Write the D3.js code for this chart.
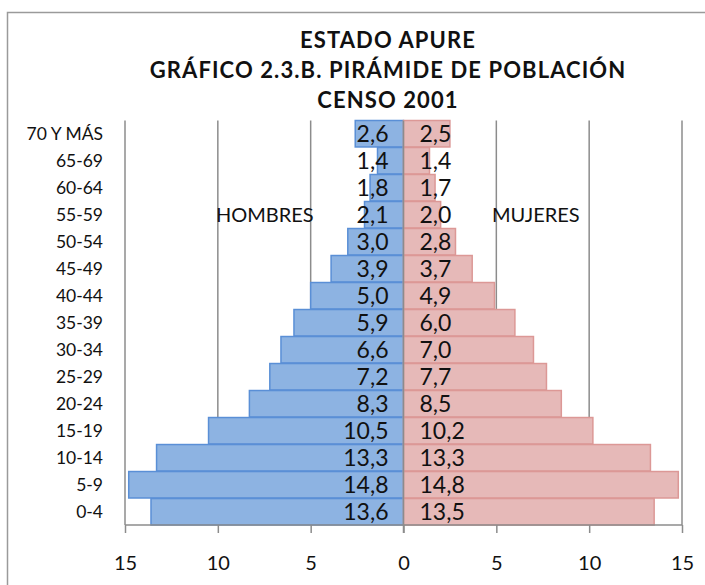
<!DOCTYPE html>
<html>
<head>
<meta charset="utf-8">
<script src="https://cdn.jsdelivr.net/npm/d3@7"></script>
<style>
  html, body { margin: 0; padding: 0; background: #fff; }
  svg { display: block; font-family: Lato, "Open Sans", sans-serif; }
</style>
</head>
<body>
<svg id="chart" width="705" height="585"></svg>
<script>
const titleLines = ["ESTADO APURE", "GRÁFICO 2.3.B. PIRÁMIDE  DE POBLACIÓN", "CENSO 2001"];
const categories = ["70 Y MÁS","65-69","60-64","55-59","50-54","45-49","40-44","35-39","30-34","25-29","20-24","15-19","10-14","5-9","0-4"];
const hombres = [2.6,1.4,1.8,2.1,3.0,3.9,5.0,5.9,6.6,7.2,8.3,10.5,13.3,14.8,13.6];
const mujeres = [2.5,1.4,1.7,2.0,2.8,3.7,4.9,6.0,7.0,7.7,8.5,10.2,13.3,14.8,13.5];
const xTicks = [-15,-10,-5,0,5,10,15];
const seriesNames = ["HOMBRES","MUJERES"];

const svg = d3.select("#chart");

// outer border
svg.append("rect").attr("x", 7.5).attr("y", 12.5).attr("width", 710).attr("height", 600)
  .attr("fill", "#fff").attr("stroke", "#9a9a9a").attr("stroke-width", 1.5);

const x = d3.scaleLinear().domain([-15, 15]).range([125, 682]);
const y = d3.scaleBand().domain(categories).range([120.5, 525]).paddingInner(0.02).paddingOuter(0);

const fmt = v => d3.format(".1f")(v).replace(".", ",");

// gridlines
svg.append("g").selectAll("line").data(xTicks.filter(t => t !== 0)).join("line")
  .attr("x1", d => x(d)).attr("x2", d => x(d))
  .attr("y1", 120.5).attr("y2", 525)
  .attr("stroke", "#8c8c8c").attr("stroke-width", 1.5);

// bars
svg.append("g").selectAll("rect").data(categories).join("rect")
  .attr("x", (d, i) => x(-hombres[i]))
  .attr("width", (d, i) => x(0) - x(-hombres[i]))
  .attr("y", d => y(d)).attr("height", y.bandwidth())
  .attr("fill", "#8db3e2").attr("stroke", "#5a8fd6").attr("stroke-width", 1.5);

svg.append("g").selectAll("rect").data(categories).join("rect")
  .attr("x", x(0))
  .attr("width", (d, i) => x(mujeres[i]) - x(0))
  .attr("y", d => y(d)).attr("height", y.bandwidth())
  .attr("fill", "#e6b9b8").attr("stroke", "#dc9896").attr("stroke-width", 1.5);

// bottom axis
const xAxis = d3.axisBottom(x).tickValues(xTicks).tickSize(8).tickPadding(23)
  .tickFormat(d => Math.abs(d));
const gx = svg.append("g").attr("transform", "translate(0,525)").call(xAxis);
gx.select(".domain").attr("stroke", "#8c8c8c").attr("stroke-width", 1.5).attr("d", `M${x(-15)},0H${x(15)}`);
gx.selectAll(".tick line").attr("stroke", "#8c8c8c").attr("stroke-width", 1.5);
gx.selectAll(".tick text").attr("font-size", 20).attr("fill", "#111").attr("font-family", "Lato, sans-serif");

// zero axis
svg.append("line").attr("x1", x(0)).attr("x2", x(0)).attr("y1", 120.5).attr("y2", 533)
  .attr("stroke", "#8c8c8c").attr("stroke-width", 1.5);

// category labels
svg.append("g").selectAll("text").data(categories).join("text")
  .attr("x", 103).attr("y", d => y(d) + y.step() / 2)
  .attr("dy", "0.36em").attr("text-anchor", "end")
  .attr("font-size", 17.5).attr("fill", "#111").text(d => d);

// value labels
svg.append("g").selectAll("text").data(categories).join("text")
  .attr("x", x(0) - 15).attr("y", d => y(d) + y.step() / 2)
  .attr("dy", "0.36em").attr("text-anchor", "end")
  .attr("font-size", 23).attr("fill", "#111").text((d, i) => fmt(hombres[i]));

svg.append("g").selectAll("text").data(categories).join("text")
  .attr("x", x(0) + 16).attr("y", d => y(d) + y.step() / 2)
  .attr("dy", "0.36em").attr("text-anchor", "start")
  .attr("font-size", 23).attr("fill", "#111").text((d, i) => fmt(mujeres[i]));

// series labels
svg.append("text").attr("x", 216).attr("y", y("55-59") + y.step() / 2).attr("dy", "0.36em")
  .attr("font-size", 20).attr("fill", "#111").text(seriesNames[0]);
svg.append("text").attr("x", 492).attr("y", y("55-59") + y.step() / 2).attr("dy", "0.36em")
  .attr("font-size", 20).attr("fill", "#111").text(seriesNames[1]);

// title
svg.append("g").selectAll("text").data(titleLines).join("text")
  .attr("x", 388).attr("y", (d, i) => 48 + i * 30)
  .attr("text-anchor", "middle").attr("font-size", 22).attr("font-weight", "bold")
  .attr("letter-spacing", 1.1)
  .attr("fill", "#111").text(d => d);
</script>
</body>
</html>
